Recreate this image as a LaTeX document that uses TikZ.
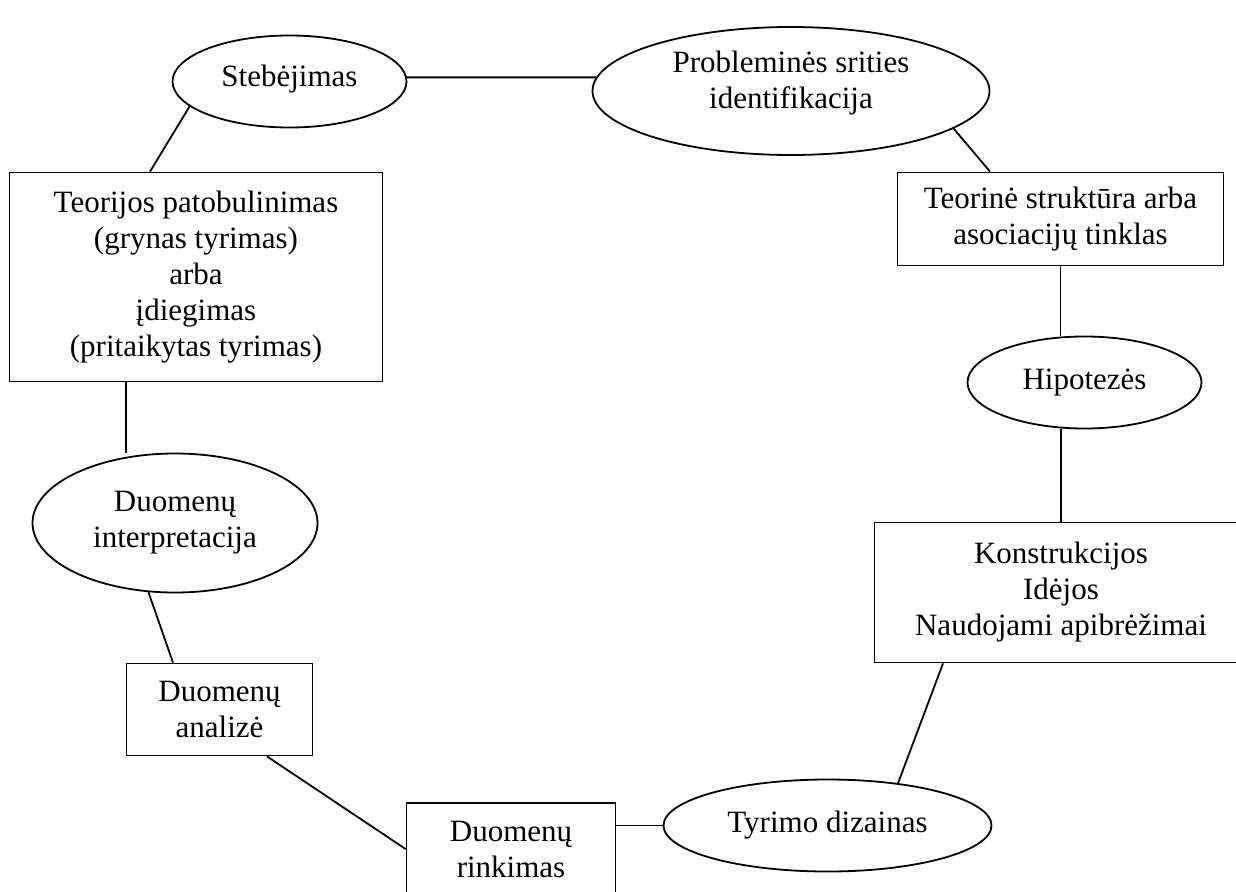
\documentclass[tikz,border=0pt]{standalone}
\usepackage{fontspec}
\setmainfont{Liberation Serif}
\usetikzlibrary{shapes.geometric}
\begin{document}
\begin{tikzpicture}[x=1pt,y=-1pt,
  every node/.style={font=\fontsize{31}{36}\selectfont, align=center, inner sep=0pt},
  oval/.style={draw, ellipse, line width=1.8pt},
  box/.style={draw, rectangle, line width=1.8pt},
  link/.style={line width=1.8pt}]
\useasboundingbox (0,0) rectangle (1236,891);
\clip (0,0) rectangle (1236,891);
\fill[white] (0,0) rectangle (1236,891);

% ovals
\node[oval, minimum width=234pt, minimum height=92pt] (steb) at (289.5,81.5) {Stebėjimas\rule[-12pt]{0pt}{12pt}};
\node[oval, minimum width=397pt, minimum height=128pt] (prob) at (791,91) {Probleminės srities\\identifikacija\rule[-23pt]{0pt}{23pt}};
\node[oval, minimum width=234pt, minimum height=92pt] (hipo) at (1084.5,382.5) {Hipotezės};
\node[oval, minimum width=285pt, minimum height=139pt] (interp) at (175,523) {Duomenų\\interpretacija};
\node[oval, minimum width=328pt, minimum height=92pt] (tyr) at (827.5,825.5) {Tyrimo dizainas};

% boxes
\node[box, minimum width=373pt, minimum height=209pt] (teor) at (196,277)
  {Teorijos patobulinimas\\(grynas tyrimas)\\arba\\įdiegimas\\(pritaikytas tyrimas)};
\node[box, minimum width=326pt, minimum height=93pt] (struk) at (1060.5,219)
  {Teorinė struktūra arba\\asociacijų tinklas};
\node[box, minimum width=373pt, minimum height=140pt] (konst) at (1061,592.5)
  {Konstrukcijos\\Idėjos\\Naudojami apibrėžimai};
\node[box, minimum width=186pt, minimum height=92pt] (anal) at (219.5,709.5)
  {Duomenų\\analizė};
\node[box, minimum width=209pt, minimum height=92pt] (rink) at (511,849)
  {Duomenų\\rinkimas};

% connectors
\draw[link] (steb.2) -- (prob.176);
\draw[link] (steb.194) -- ([xshift=-46pt]teor.north);
\draw[link] (prob.-13) -- ([xshift=-70.5pt]struk.north);
\draw[link] (struk.south) -- (struk.south |- hipo.north);
\draw[link] (konst.north) -- (konst.north |- hipo.south);
\draw[link] ([xshift=-118pt]konst.south) -- (tyr.31);
\draw[link] (tyr.west) -- (tyr.west -| rink.east);
\draw[link] (rink.west) -- ([xshift=47.5pt]anal.south);
\draw[link] ([xshift=-46.5pt]anal.north) -- (interp.249);
\draw[link] ([xshift=-70pt]teor.south) -- ([xshift=-70pt]teor.south |- interp.north);
\end{tikzpicture}
\end{document}
